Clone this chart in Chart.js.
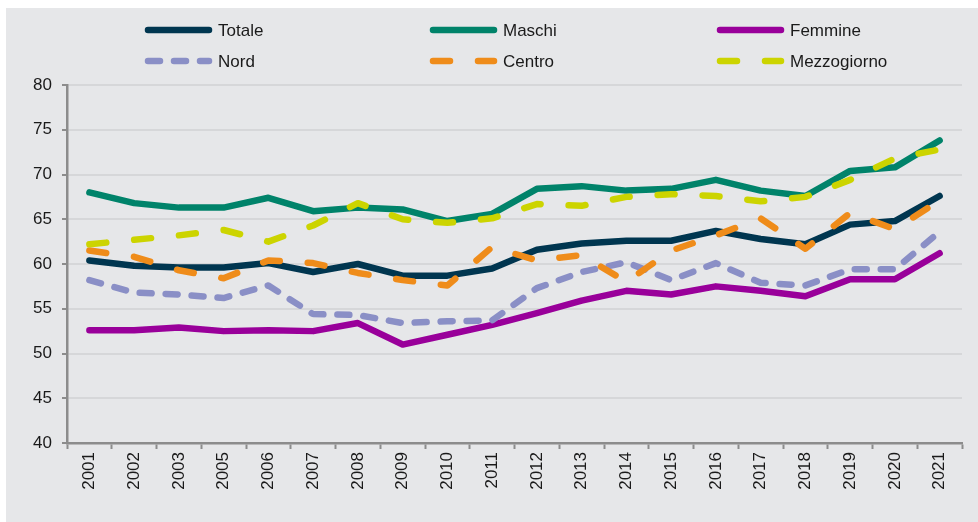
<!DOCTYPE html>
<html lang="it">
<head>
<meta charset="utf-8">
<script src="https://cdn.jsdelivr.net/npm/chart.js@4/dist/chart.umd.min.js"></script>
<style>
    html, body { margin: 0; padding: 0; background: #fff; overflow: hidden; }
    body { width: 978px; height: 522px; position: relative; font-family: 'Liberation Sans', Arial, sans-serif; }
    .title {
        position: absolute; left: 0; width: 978px; top: -16px; line-height: 15px;
        text-align: center; font-weight: bold; font-size: 15px; color: #00826a; white-space: nowrap;
    }
    .panel { position: absolute; left: 6px; top: 8px; width: 972px; height: 514px; background: #e6e7e9; }
    canvas { display: block; }
</style>
</head>
<body>
<div class="title">Tasso di occupazione per ripartizione geografica e genere. Anni 2001-2021 (per 100 persone della stessa età)</div>
<div class="panel"><canvas id="chart" width="972" height="514"></canvas></div>
<script>
const years = ['2001', '2002', '2003', '2005', '2006', '2007', '2008', '2009', '2010', '2011',
    '2012', '2013', '2014', '2015', '2016', '2017', '2018', '2019', '2020', '2021'];

const totale = [60.4, 59.8, 59.6, 59.6, 60.1, 59.1, 60.0, 58.7, 58.7, 59.5, 61.6, 62.3, 62.6, 62.6, 63.7, 62.8, 62.2, 64.4, 64.8, 67.6];
const maschi = [68.0, 66.8, 66.3, 66.3, 67.4, 65.9, 66.3, 66.1, 64.8, 65.6, 68.4, 68.7, 68.2, 68.4, 69.4, 68.2, 67.6, 70.4, 70.8, 73.8];
const femmine = [52.6, 52.6, 52.9, 52.5, 52.6, 52.5, 53.4, 51.0, 52.1, 53.2, 54.5, 55.9, 57.0, 56.6, 57.5, 57.0, 56.4, 58.3, 58.3, 61.2];
const nord = [58.2, 56.8, 56.6, 56.2, 57.6, 54.4, 54.3, 53.4, 53.6, 53.7, 57.3, 59.1, 60.2, 58.2, 60.1, 57.9, 57.6, 59.4, 59.4, 63.6];
const centro = [61.5, 60.8, 59.3, 58.4, 60.4, 60.1, 59.0, 58.2, 57.6, 61.9, 60.4, 61.0, 58.0, 61.5, 63.2, 65.1, 61.7, 65.7, 63.9, 67.1];
const mezzogiorno = [62.2, 62.7, 63.2, 63.8, 62.5, 64.3, 66.8, 65.0, 64.6, 65.1, 66.7, 66.5, 67.5, 67.8, 67.6, 67.0, 67.5, 69.4, 71.8, 72.8];

const seriesNames = ['Totale', 'Maschi', 'Femmine', 'Nord', 'Centro', 'Mezzogiorno'];
const yTicks = { min: 40, max: 80, step: 5 };

const FONT = "'Liberation Sans', Arial, sans-serif";

function line(label, data, color, dash, order) {
    return {
        label: label,
        data: data,
        borderColor: color,
        backgroundColor: color,
        borderWidth: 6.5,
        borderDash: dash,
        borderCapStyle: 'round',
        borderJoinStyle: 'round',
        pointRadius: 0,
        tension: 0,
        fill: false,
        order: order
    };
}

// legend drawn by hand: three fixed columns, two rows
const gridLegend = {
    id: 'gridLegend',
    afterDraw(chart) {
        const ctx = chart.ctx;
        const colX = [139, 424, 711];
        const rowY = [22, 53];
        const len = 67;
        chart.data.datasets.forEach((ds, i) => {
            const x = colX[i % 3];
            const y = rowY[Math.floor(i / 3)];
            ctx.save();
            ctx.strokeStyle = ds.borderColor;
            ctx.lineWidth = ds.borderWidth;
            ctx.lineCap = 'round';
            ctx.setLineDash(ds.borderDash || []);
            ctx.beginPath();
            ctx.moveTo(x + 3, y);
            ctx.lineTo(x + len - 3, y);
            ctx.stroke();
            ctx.setLineDash([]);
            ctx.fillStyle = '#1a1a1a';
            ctx.font = '17px ' + FONT;
            ctx.textBaseline = 'middle';
            ctx.textAlign = 'left';
            ctx.fillText(ds.label, x + len + 6, y + 1);
            ctx.restore();
        });
    }
};

const ctx = document.getElementById('chart').getContext('2d');

new Chart(ctx, {
    type: 'line',
    data: {
        labels: years,
        datasets: [
            line(seriesNames[0], totale, '#003650', [], 5),
            line(seriesNames[1], maschi, '#00836a', [], 4),
            line(seriesNames[2], femmine, '#99009a', [], 3),
            line(seriesNames[3], nord, '#8a8fc6', [12, 14], 2),
            line(seriesNames[4], centro, '#ef8c1a', [17, 28], 1),
            line(seriesNames[5], mezzogiorno, '#ccd400', [17, 28], 0)
        ]
    },
    options: {
        responsive: false,
        animation: false,
        devicePixelRatio: 1,
        layout: {
            padding: { top: 77, right: 16, bottom: 0, left: 0 }
        },
        plugins: {
            legend: { display: false },
            title: { display: false },
            tooltip: { enabled: false }
        },
        scales: {
            x: {
                offset: true,
                grid: {
                    offset: true,
                    drawOnChartArea: false,
                    drawTicks: true,
                    tickLength: 6,
                    tickColor: '#8c8c8c',
                    tickWidth: 2
                },
                border: { color: '#8c8c8c', width: 2.5 },
                ticks: {
                    color: '#1a1a1a',
                    font: { family: FONT, size: 17 },
                    minRotation: 90,
                    maxRotation: 90,
                    padding: 3,
                    autoSkip: false
                },
                afterFit: (scale) => { scale.height = 79; }
            },
            y: {
                min: yTicks.min,
                max: yTicks.max,
                grid: {
                    color: '#d6d7d9',
                    lineWidth: 2,
                    tickColor: '#8c8c8c',
                    tickLength: 5,
                    tickWidth: 2
                },
                border: { color: '#8c8c8c', width: 2.5 },
                ticks: {
                    stepSize: yTicks.step,
                    color: '#1a1a1a',
                    font: { family: FONT, size: 17 },
                    padding: 10
                },
                afterFit: (scale) => { scale.width = 61; }
            }
        }
    },
    plugins: [gridLegend]
});
</script>
</body>
</html>
